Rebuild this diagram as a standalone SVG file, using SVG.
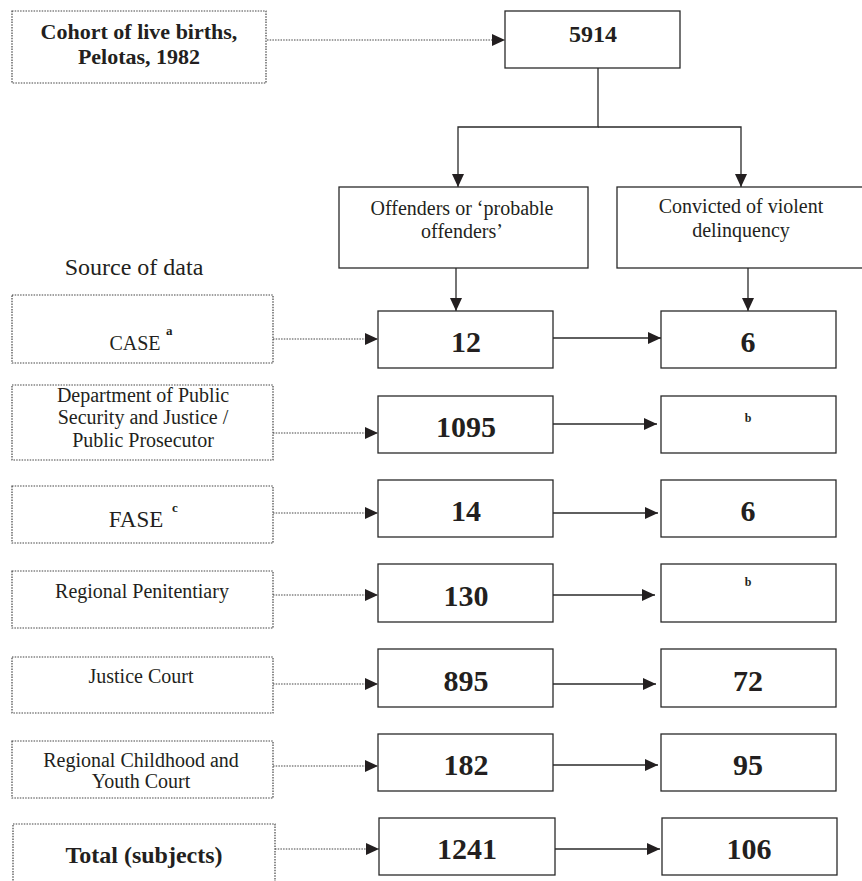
<svg xmlns="http://www.w3.org/2000/svg" width="862" height="881" viewBox="0 0 862 881">
<style>
.src{fill:#fff;stroke:#444;stroke-width:1.2;stroke-dasharray:1.5 1.2}
.box{fill:#fff;stroke:#2a2a2a;stroke-width:1.3}
.t{font-family:"Liberation Serif","Times New Roman",serif;fill:#231f20;text-anchor:middle}
.lbl{font-size:20px}
.num{font-size:30px;font-weight:bold}
.sup{font-size:13px;font-weight:bold;text-anchor:start}
.dot{fill:none;stroke:#444;stroke-width:1.2;stroke-dasharray:1.5 1.2}
.sol{fill:none;stroke:#2a2a2a;stroke-width:1.3}
</style>
<defs>
<marker id="ah" markerUnits="userSpaceOnUse" markerWidth="14" markerHeight="12" refX="13" refY="6" orient="auto">
<path d="M0,0 L13,6 L0,12 Z" fill="#231f20"/>
</marker>
</defs>
<g id="connectors">
<line class="dot" x1="267" y1="40" x2="505" y2="40" marker-end="url(#ah)"/>
<polyline class="sol" points="598,68 598,127 458,127 458,187" marker-end="url(#ah)"/>
<polyline class="sol" points="598,127 741,127 741,187" marker-end="url(#ah)"/>
<line class="sol" x1="456" y1="268" x2="456" y2="311" marker-end="url(#ah)"/>
<line class="sol" x1="748" y1="268" x2="748" y2="311" marker-end="url(#ah)"/>
<line class="dot" x1="273" y1="339" x2="378" y2="339" marker-end="url(#ah)"/>
<line class="dot" x1="273" y1="433" x2="378" y2="433" marker-end="url(#ah)"/>
<line class="dot" x1="273" y1="513" x2="378" y2="513" marker-end="url(#ah)"/>
<line class="dot" x1="273" y1="595" x2="378" y2="595" marker-end="url(#ah)"/>
<line class="dot" x1="273" y1="684" x2="378" y2="684" marker-end="url(#ah)"/>
<line class="dot" x1="273" y1="766" x2="378" y2="766" marker-end="url(#ah)"/>
<line class="dot" x1="275" y1="849" x2="379" y2="849" marker-end="url(#ah)"/>
<line class="sol" x1="553" y1="338" x2="661" y2="338" marker-end="url(#ah)"/>
<line class="sol" x1="553" y1="424" x2="657" y2="424" marker-end="url(#ah)"/>
<line class="sol" x1="553" y1="513" x2="658" y2="513" marker-end="url(#ah)"/>
<line class="sol" x1="553" y1="595" x2="655" y2="595" marker-end="url(#ah)"/>
<line class="sol" x1="553" y1="684" x2="656" y2="684" marker-end="url(#ah)"/>
<line class="sol" x1="553" y1="765" x2="658" y2="765" marker-end="url(#ah)"/>
<line class="sol" x1="555" y1="849" x2="660" y2="849" marker-end="url(#ah)"/>
</g>
<g id="cohort">
<rect class="src" x="12" y="11" width="254" height="72"/>
<text class="t" x="139" y="39" font-size="22" font-weight="bold">Cohort of live births,</text>
<text class="t" x="139" y="64" font-size="22" font-weight="bold">Pelotas, 1982</text>
</g>
<g id="n5914">
<rect class="box" x="505" y="11" width="175" height="57"/>
<text class="t" x="593" y="42" font-size="24" font-weight="bold">5914</text>
</g>
<g id="offenders">
<rect class="box" x="339" y="187" width="249" height="81"/>
<text class="t lbl" x="462" y="215">Offenders or ‘probable</text>
<text class="t lbl" x="462" y="238">offenders’</text>
</g>
<g id="convicted">
<rect class="box" x="617" y="187" width="250" height="81"/>
<text class="t lbl" x="741" y="213">Convicted of violent</text>
<text class="t lbl" x="741" y="237">delinquency</text>
</g>
<g id="source-title">
<text class="t" x="134" y="275" font-size="24">Source of data</text>
</g>
<g id="src-case">
<rect class="src" x="12" y="295" width="261" height="68"/>
<text class="t lbl" x="135" y="350">CASE</text>
<text class="t sup" x="166" y="335">a</text>
</g>
<g id="src-dept">
<rect class="src" x="12" y="385" width="261" height="75"/>
<text class="t lbl" x="143" y="402">Department of Public</text>
<text class="t lbl" x="143" y="424">Security and Justice /</text>
<text class="t lbl" x="143" y="447">Public Prosecutor</text>
</g>
<g id="src-fase">
<rect class="src" x="12" y="486" width="261" height="57"/>
<text class="t" x="136" y="527" font-size="23">FASE</text>
<text class="t sup" x="172" y="512">c</text>
</g>
<g id="src-pen">
<rect class="src" x="12" y="571" width="261" height="57"/>
<text class="t lbl" x="142" y="598">Regional Penitentiary</text>
</g>
<g id="src-justice">
<rect class="src" x="12" y="657" width="261" height="56"/>
<text class="t lbl" x="141" y="683">Justice Court</text>
</g>
<g id="src-youth">
<rect class="src" x="12" y="741" width="261" height="57"/>
<text class="t lbl" x="141" y="767">Regional Childhood and</text>
<text class="t lbl" x="141" y="788">Youth Court</text>
</g>
<g id="src-total">
<rect class="src" x="13" y="824" width="262" height="70"/>
<text class="t" x="144" y="863" font-size="24" font-weight="bold">Total (subjects)</text>
</g>
<g id="o-case"><rect class="box" x="378" y="311" width="175" height="57"/><text class="t num" x="466" y="352">12</text></g>
<g id="o-dept"><rect class="box" x="378" y="396" width="175" height="57"/><text class="t num" x="466" y="437">1095</text></g>
<g id="o-fase"><rect class="box" x="378" y="480" width="175" height="57"/><text class="t num" x="466" y="521">14</text></g>
<g id="o-pen"><rect class="box" x="378" y="564" width="175" height="58"/><text class="t num" x="466" y="606">130</text></g>
<g id="o-justice"><rect class="box" x="378" y="649" width="175" height="58"/><text class="t num" x="466" y="691">895</text></g>
<g id="o-youth"><rect class="box" x="378" y="734" width="175" height="57"/><text class="t num" x="466" y="775">182</text></g>
<g id="o-total"><rect class="box" x="379" y="818" width="176" height="57"/><text class="t num" x="467" y="859">1241</text></g>
<g id="v-case"><rect class="box" x="661" y="311" width="175" height="57"/><text class="t num" x="748" y="352">6</text></g>
<g id="v-dept"><rect class="box" x="661" y="396" width="175" height="57"/><text class="t" x="748" y="422" font-size="12" font-weight="bold">b</text></g>
<g id="v-fase"><rect class="box" x="661" y="480" width="175" height="57"/><text class="t num" x="748" y="521">6</text></g>
<g id="v-pen"><rect class="box" x="661" y="564" width="175" height="58"/><text class="t" x="748" y="586" font-size="12" font-weight="bold">b</text></g>
<g id="v-justice"><rect class="box" x="661" y="649" width="175" height="58"/><text class="t num" x="748" y="691">72</text></g>
<g id="v-youth"><rect class="box" x="661" y="734" width="175" height="57"/><text class="t num" x="748" y="775">95</text></g>
<g id="v-total"><rect class="box" x="662" y="818" width="175" height="57"/><text class="t num" x="749" y="859">106</text></g>
</svg>
